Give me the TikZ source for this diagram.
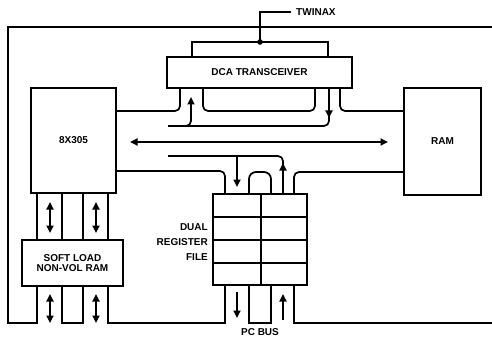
\documentclass[tikz,border=0pt]{standalone}
\usepackage{fontspec}
\setmainfont{Liberation Sans}
\usetikzlibrary{arrows.meta}
\begin{document}
\begin{tikzpicture}[x=1pt,y=-1pt,
  wire/.style={line width=1.7pt, line cap=butt},
  rwire/.style={wire, rounded corners=5pt},
  box/.style={draw, line width=1.9pt, inner sep=0pt, font=\bfseries\fontsize{10}{11.5}\selectfont},
  lbl/.style={font=\bfseries\fontsize{10}{15}\selectfont, inner sep=0pt},
  tip/.style={-{Triangle[length=7.5pt,width=7pt]}},
  dtip/.style={{Triangle[length=7.5pt,width=7pt]}-{Triangle[length=7.5pt,width=7pt]}}
]
\useasboundingbox (0,0) rectangle (492,342);
% boxes
\node[box, minimum width=85pt, minimum height=105pt] (cpu) at (73.5,140.5) {8X305};
\node[box, minimum width=77pt, minimum height=107pt] (ram) at (442.5,141.5) {RAM};
\node[box, minimum width=185pt, minimum height=31pt] (dca) at (259.5,72.5) {DCA TRANSCEIVER};
\node[box, minimum width=101pt, minimum height=46pt, align=center] (soft) at (72.5,263) {SOFT LOAD\\[-1pt]NON-VOL RAM};
\node[box, minimum width=94pt, minimum height=91pt] (reg) at (260,239.5) {};
\draw[wire] (261,194) -- (261,285);
\foreach \yy in {217,240,263} \draw[wire] (213,\yy) -- (307,\yy);
\node[lbl, anchor=east, align=right] (reglbl) at (208,242) {DUAL\\REGISTER\\FILE};
\node[lbl] (pcbus) at (260,332) {PC BUS};
% outer frame
\draw[wire] (492,27) -- (8,27) -- (8,323) -- (37,323) -- (37,286);
\draw[wire] (62,286) -- (62,323) -- (83,323) -- (83,286);
\draw[wire] (108,286) -- (108,323) -- (225,323) -- (225,285);
\draw[wire] (249,285) -- (249,323) -- (271,323) -- (271,285);
\draw[wire] (294,285) -- (294,323) -- (492,323);
% cpu - soft load channels
\foreach \xx in {37,62,83,108} \draw[wire] (\xx,193) -- (\xx,240);
\draw[wire,dtip] (50,202) -- (50,233);
\draw[wire,dtip] (96,202) -- (96,233);
\draw[wire,dtip] (50,294) -- (50,323);
\draw[wire,dtip] (96,294) -- (96,323);
% PC bus arrows
\draw[wire,tip] (237,292) -- (237,318);
\draw[wire,tip] (283,320) -- (283,294);
% register top
\draw[rwire] (116,171) -- (225,171) -- (225,194);
\draw[wire, rounded corners=7pt] (249,194) -- (249,172) -- (271,172) -- (271,194);
\draw[rwire] (294,194) -- (294,172) -- (404,172);
\draw[rwire] (168,156) -- (283,156) -- (283,168);
\draw[wire,tip] (283,193) -- (283,163);
\draw[wire,tip] (237,156) -- (237,187);
% transceiver bottom
\draw[rwire] (116,111) -- (180,111) -- (180,88);
\draw[rwire] (203,88) -- (203,111) -- (315,111) -- (315,88);
\draw[rwire] (340,88) -- (340,111) -- (404,111);
\draw[rwire] (168,126) -- (329,126) -- (329,114);
\draw[wire,tip,rounded corners=5pt] (180,126) -- (191,126) -- (191,97);
\draw[wire,tip] (329,88) -- (329,118);
% middle bus
\draw[wire,dtip] (130,142) -- (388,142);
% twinax
\draw[wire] (192,57) -- (192,42) -- (328,42) -- (328,57);
\coordinate (tap) at (260,42);
\fill (tap) circle (2.8pt);
\draw[wire] (tap) -- (260,12) -- (291,12);
\node[lbl, anchor=west] (twinax) at (296,12.5) {TWINAX};
\end{tikzpicture}
\end{document}
